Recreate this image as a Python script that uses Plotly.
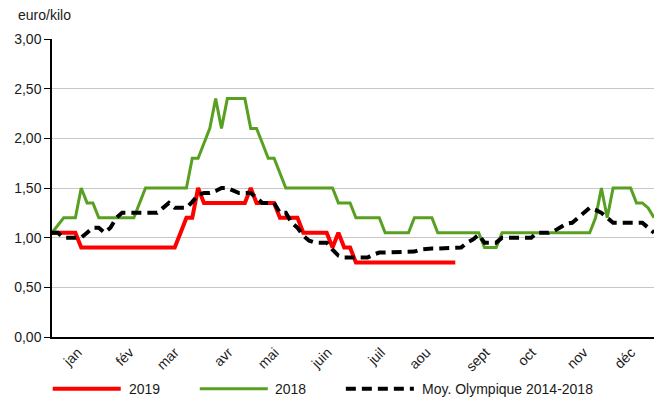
import plotly.graph_objects as go

# prix hebdo (2 cotations / semaine), euro/kilo
mois = ["jan", "fév", "mar", "avr", "mai", "juin", "juil", "aou", "sept", "oct", "nov", "déc"]
mois_pos = [4.4, 13.3, 21.0, 30.2, 38.1, 47.2, 56.3, 64.1, 74.2, 82.1, 91.0, 99.1]

prix_2019 = [1.05, 1.05, 1.05, 1.05, 1.05,
             0.90, 0.90, 0.90, 0.90, 0.90, 0.90, 0.90, 0.90, 0.90, 0.90,
             0.90, 0.90, 0.90, 0.90, 0.90, 0.90, 0.90,
             1.05, 1.20, 1.20, 1.50,
             1.35, 1.35, 1.35, 1.35, 1.35, 1.35, 1.35, 1.35,
             1.50, 1.35, 1.35, 1.35, 1.35,
             1.20, 1.20, 1.20, 1.20,
             1.05, 1.05, 1.05, 1.05, 1.05,
             0.90, 1.05, 0.90, 0.90,
             0.75, 0.75, 0.75, 0.75, 0.75, 0.75, 0.75, 0.75, 0.75,
             0.75, 0.75, 0.75, 0.75, 0.75, 0.75, 0.75, 0.75, 0.75]

prix_2018 = [1.05, 1.13, 1.20, 1.20, 1.20, 1.50, 1.35, 1.35, 1.20, 1.20,
             1.20, 1.20, 1.20, 1.20, 1.20, 1.35, 1.50, 1.50, 1.50, 1.50,
             1.50, 1.50, 1.50, 1.50, 1.80, 1.80, 1.95, 2.10, 2.40, 2.10,
             2.40, 2.40, 2.40, 2.40, 2.10, 2.10, 1.95, 1.80, 1.80, 1.65,
             1.50, 1.50, 1.50, 1.50, 1.50, 1.50, 1.50, 1.50, 1.50, 1.35,
             1.35, 1.35, 1.20, 1.20, 1.20, 1.20, 1.20, 1.05, 1.05, 1.05,
             1.05, 1.05, 1.20, 1.20, 1.20, 1.20, 1.05, 1.05, 1.05, 1.05,
             1.05, 1.05, 1.05, 1.05, 0.90, 0.90, 0.90, 1.05, 1.05, 1.05,
             1.05, 1.05, 1.05, 1.05, 1.05, 1.05, 1.05, 1.05, 1.05, 1.05,
             1.05, 1.05, 1.05, 1.20, 1.50, 1.20, 1.50, 1.50, 1.50, 1.50,
             1.35, 1.35, 1.30, 1.20]

moy_olympique = [1.05, 1.05, 1.00, 1.00, 1.00, 1.00, 1.05, 1.10, 1.10, 1.05,
                 1.10, 1.20, 1.25, 1.25, 1.25, 1.25, 1.25, 1.25, 1.25, 1.30,
                 1.35, 1.30, 1.30, 1.30, 1.36, 1.43, 1.45, 1.45, 1.47, 1.50,
                 1.50, 1.47, 1.45, 1.45, 1.45, 1.40, 1.35, 1.35, 1.35, 1.25,
                 1.25, 1.15, 1.10, 1.02, 0.97, 0.95, 0.95, 0.95, 0.88, 0.82,
                 0.80, 0.80, 0.80, 0.80, 0.80, 0.83, 0.85, 0.85, 0.85, 0.85,
                 0.85, 0.85, 0.86, 0.88, 0.89, 0.89, 0.89, 0.89, 0.89, 0.90,
                 0.90, 0.95, 0.98, 1.03, 0.95, 0.95, 0.95, 1.00, 1.00, 1.00,
                 1.00, 1.00, 1.00, 1.05, 1.05, 1.05, 1.07, 1.10, 1.14, 1.15,
                 1.20, 1.25, 1.30, 1.28, 1.25, 1.20, 1.15, 1.15, 1.15, 1.15,
                 1.15, 1.15, 1.10, 1.05]

ROUGE = "#ff0000"
VERT = "#58a021"
NOIR = "#000000"
TIRETS = "10px,6px"
police = dict(family="Liberation Sans, Arial, sans-serif", size=14, color="#1a1a1a")

fig = go.Figure()
fig.add_trace(go.Scatter(x=list(range(len(prix_2019))), y=prix_2019, mode="lines",
                         name="2019", line=dict(color=ROUGE, width=4)))
fig.add_trace(go.Scatter(x=list(range(len(prix_2018))), y=prix_2018, mode="lines",
                         name="2018", line=dict(color=VERT, width=3)))
fig.add_trace(go.Scatter(x=list(range(len(moy_olympique))), y=moy_olympique, mode="lines",
                         name="Moy. Olympique 2014-2018",
                         line=dict(color=NOIR, width=4, dash=TIRETS)))

# zone de tracé en pixels
G, D, H, B = 52.3, 654.0, 39.3, 337.3


def px_x(p):
    return (p - G) / (D - G)


def px_y(p):
    return (B - p) / (B - H)


# légende dessinée à la main (traits longs comme l'original)
legende = [("2019", ROUGE, 4, None, 53, 121, 127),
           ("2018", VERT, 3, None, 200, 268, 273),
           ("Moy. Olympique 2014-2018", NOIR, 4, TIRETS, 346, 414, 420)]
for nom, coul, ep, dash, x0, x1, xt in legende:
    fig.add_shape(type="line", xref="paper", yref="paper",
                  x0=px_x(x0), x1=px_x(x1), y0=px_y(389), y1=px_y(389),
                  line=dict(color=coul, width=ep, dash=dash))
    fig.add_annotation(text=nom, xref="paper", yref="paper", x=px_x(xt), y=px_y(389),
                       xanchor="left", yanchor="middle", showarrow=False, font=police)

fig.add_annotation(text="euro/kilo", xref="paper", yref="paper", x=px_x(16), y=px_y(15),
                   xanchor="left", yanchor="middle", showarrow=False, font=police)

fig.update_layout(
    width=662, height=401,
    margin=dict(l=52, r=8, t=39, b=64),
    plot_bgcolor="white", paper_bgcolor="white",
    separators=", ",
    showlegend=False,
    font=police,
    xaxis=dict(range=[0, 103], showgrid=False, zeroline=False,
               showline=True, linecolor=NOIR, linewidth=1.5,
               tickmode="array", tickvals=mois_pos, ticktext=mois,
               tickangle=-45, ticks="", tickfont=police),
    yaxis=dict(range=[0, 3], dtick=0.5, tickformat=".2f",
               showgrid=True, gridcolor="#c8c8c8", gridwidth=1, zeroline=False,
               showline=True, linecolor=NOIR, linewidth=1.5,
               ticks="outside", ticklen=6, tickcolor=NOIR, tickfont=police),
)

# pas de marge autour du graphique dans la page, pas de barre d'outils
fig.write_html("out.html", config={"displayModeBar": False},
               post_script="document.body.style.margin='0';")
